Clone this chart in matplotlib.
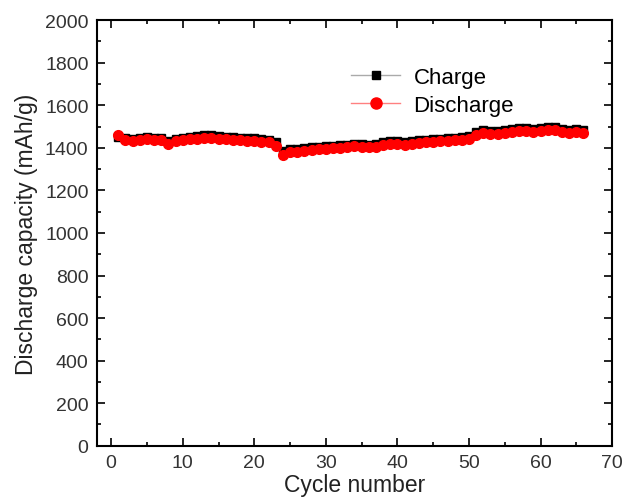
import numpy as np
import matplotlib
matplotlib.use('Agg')
import matplotlib.pyplot as plt
from matplotlib.ticker import MultipleLocator

plt.rcParams['font.family'] = ['Liberation Sans', 'DejaVu Sans']

# Cycle data
cycles = list(range(1, 67))
charge = [1450, 1445, 1442, 1445, 1450, 1448, 1445, 1432, 1440, 1448,
          1452, 1455, 1458, 1460, 1455, 1452, 1450, 1448, 1447, 1445,
          1442, 1438, 1425, 1385, 1392, 1395, 1398, 1402, 1405, 1408,
          1410, 1412, 1415, 1420, 1418, 1415, 1418, 1425, 1432, 1430,
          1428, 1432, 1435, 1438, 1440, 1442, 1445, 1448, 1450, 1455,
          1475, 1482, 1480, 1478, 1482, 1488, 1495, 1492, 1488, 1495,
          1498, 1496, 1488, 1485, 1487, 1485]
discharge = [1462, 1438, 1432, 1436, 1440, 1438, 1435, 1420, 1430, 1436,
             1440, 1443, 1446, 1448, 1443, 1440, 1438, 1436, 1434, 1432,
             1428, 1425, 1410, 1368, 1378, 1382, 1385, 1390, 1393, 1396,
             1398, 1400, 1403, 1408, 1405, 1402, 1405, 1412, 1418, 1416,
             1415, 1418, 1422, 1425, 1428, 1430, 1433, 1436, 1438, 1442,
             1460, 1468, 1466, 1464, 1468, 1474, 1480, 1478, 1474, 1480,
             1484, 1482, 1474, 1468, 1472, 1470]

fig = plt.figure(figsize=(6.33, 5.02), dpi=100)
ax = fig.add_axes([0.153, 0.11, 0.814, 0.848])

ax.plot(cycles, charge, color='black', marker='s', markersize=5.5, linewidth=1,
        label='Charge')
ax.plot(cycles, discharge, color='red', marker='o', markersize=7, linewidth=1,
        label='Discharge')

ax.set_xlim(-2, 70)
ax.set_ylim(0, 2000)
ax.xaxis.set_major_locator(MultipleLocator(10))
ax.xaxis.set_minor_locator(MultipleLocator(5))
ax.yaxis.set_major_locator(MultipleLocator(200))
ax.yaxis.set_minor_locator(MultipleLocator(100))
ax.tick_params(which='both', direction='in', top=True, right=True,
               labelsize=14, width=1.2, colors='black', labelcolor='#333333')
ax.tick_params(which='major', length=6, pad=6)
ax.tick_params(which='minor', length=3)
for s in ax.spines.values():
    s.set_linewidth(1.5)

ax.set_xlabel('Cycle number', fontsize=16.5, color='#222222', labelpad=1)
ax.set_ylabel('Discharge capacity (mAh/g)', fontsize=16.5, color='#222222', labelpad=5)

leg = ax.legend(loc='upper left', bbox_to_anchor=(0.455, 0.937), frameon=False,
                fontsize=16, handlelength=2.2, labelspacing=0.3,
                handletextpad=0.6)
leg.get_lines()[0].set_color('#aaaaaa')
leg.get_lines()[0].set_markerfacecolor('black')
leg.get_lines()[0].set_markeredgecolor('black')
leg.get_lines()[0].set_markersize(6)
leg.get_lines()[1].set_color('#ff8080')
leg.get_lines()[1].set_markerfacecolor('red')
leg.get_lines()[1].set_markeredgecolor('red')
leg.get_lines()[1].set_markersize(8)

fig.savefig('out.png', dpi=100)
